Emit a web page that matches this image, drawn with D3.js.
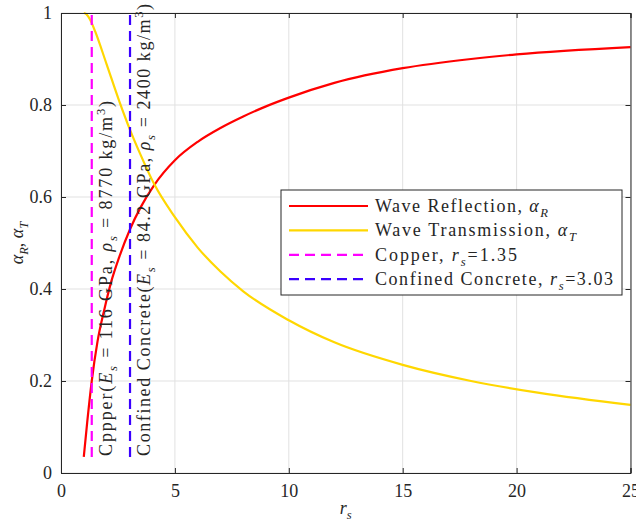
<!DOCTYPE html>
<html>
<head>
<meta charset="utf-8">
<script src="https://cdn.jsdelivr.net/npm/d3@7"></script>
<style>
  body { margin: 0; background: #fff; }
  text { font-family: "Liberation Serif", "Times New Roman", serif; fill: #262626; }
</style>
</head>
<body>
<div id="chart"></div>
<script>
// values
var rsR    = [1.0, 1.15, 1.35, 1.6, 1.9, 2.2, 2.56, 3.03, 3.5, 4.09, 5, 6, 7, 8, 9, 10, 12, 15, 18, 20, 25];
var alphaR = [0.035, 0.11, 0.2, 0.285, 0.355, 0.415, 0.47, 0.53, 0.578, 0.626, 0.68, 0.72, 0.75, 0.775, 0.797, 0.816, 0.848, 0.88, 0.9, 0.91, 0.926];
var rsT    = [1.0, 1.1, 1.2, 1.35, 1.5, 2, 2.56, 3.03, 3.5, 4.09, 5, 6, 7, 8, 10, 12, 15, 18, 21, 25];
var alphaT = [1.0, 0.998, 0.992, 0.978, 0.96, 0.889, 0.808, 0.746, 0.691, 0.628, 0.556, 0.49, 0.438, 0.395, 0.332, 0.284, 0.235, 0.2, 0.174, 0.148];
var materialR = [1.35, 3.03];
var dashSpan = [0.035, 1];
var xTicks = [0, 5, 10, 15, 20, 25];
var yTicks = [0, 0.2, 0.4, 0.6, 0.8, 1];

var w = 636, h = 527;
var margin = {left: 61, top: 13, right: 5.5, bottom: 54};
var fs = 18;

var svg = d3.select("#chart")
    .append("svg")
    .attr("width", w)
    .attr("height", h);

var xScale = d3.scaleLinear().domain([0, 25]).range([margin.left, w - margin.right]);
var yScale = d3.scaleLinear().domain([0, 1]).range([h - margin.bottom, margin.top]);

// writes text made of plain / italic / sub / sup pieces into a text element
function rich(sel, parts, size) {
    var off = 0;
    parts.forEach(function (p) {
        var t = sel.append("tspan").text(p.t);
        if (p.i) t.attr("font-style", "italic");
        var target = 0;
        if (p.sub) target = size * 0.28;
        if (p.sup) target = -size * 0.38;
        if (p.sub || p.sup) t.attr("font-size", size * 0.7);
        if (target != off) { t.attr("dy", target - off); off = target; }
    });
}

// grid
svg.append("g").selectAll("line")
    .data(xTicks)
    .enter()
    .append("line")
    .attr("x1", function (d) { return xScale(d); })
    .attr("x2", function (d) { return xScale(d); })
    .attr("y1", yScale(0))
    .attr("y2", yScale(1))
    .attr("stroke", "#e1e1e1")
    .attr("stroke-width", 1);
svg.append("g").selectAll("line")
    .data(yTicks)
    .enter()
    .append("line")
    .attr("y1", function (d) { return yScale(d); })
    .attr("y2", function (d) { return yScale(d); })
    .attr("x1", xScale(0))
    .attr("x2", xScale(25))
    .attr("stroke", "#e1e1e1")
    .attr("stroke-width", 1);

var line = d3.line()
    .curve(d3.curveMonotoneX)
    .x(function (d) { return xScale(d[0]); })
    .y(function (d) { return yScale(d[1]); });

var colors = ["#ff0000", "#ffd700", "#ff00ff", "#3a00ff"];

svg.append("path")
    .datum(d3.zip(rsR, alphaR))
    .attr("d", line)
    .attr("fill", "none")
    .attr("stroke", colors[0])
    .attr("stroke-width", 2.2);

svg.append("path")
    .datum(d3.zip(rsT, alphaT))
    .attr("d", line)
    .attr("fill", "none")
    .attr("stroke", colors[1])
    .attr("stroke-width", 2.2);

// material markers
svg.selectAll("line.mat")
    .data(materialR)
    .enter()
    .append("line")
    .attr("x1", function (d) { return xScale(d); })
    .attr("x2", function (d) { return xScale(d); })
    .attr("y1", yScale(dashSpan[0]))
    .attr("y2", yScale(dashSpan[1]))
    .attr("stroke", function (d, i) { return colors[i + 2]; })
    .attr("stroke-width", 2.2)
    .attr("stroke-dasharray", "10,6");

var matLabels = [
    [{t: "Cppper("}, {t: "E", i: 1}, {t: "s", i: 1, sub: 1}, {t: " = 116 GPa, "}, {t: "ρ", i: 1}, {t: "s", i: 1, sub: 1},
     {t: " = 8770 kg/m"}, {t: "3", sup: 1}, {t: ")"}],
    [{t: "Confined Concrete("}, {t: "E", i: 1}, {t: "s", i: 1, sub: 1}, {t: " = 84.2 GPa, "}, {t: "ρ", i: 1}, {t: "s", i: 1, sub: 1},
     {t: " = 2400 kg/m"}, {t: "3", sup: 1}, {t: ")"}]
];
var matLen = [355, 452];

matLabels.forEach(function (parts, i) {
    var t = svg.append("text")
        .attr("transform", "translate(" + (xScale(materialR[i]) + 20) + "," + (yScale(dashSpan[0]) - 1) + ") rotate(-90)")
        .attr("font-size", fs)
        .attr("textLength", matLen[i])
        .attr("lengthAdjust", "spacing");
    rich(t, parts, fs);
});

// axes
var xAxis = d3.axisBottom(xScale).tickValues(xTicks).tickSize(-5).tickPadding(11).tickFormat(d3.format("d"));
var yAxis = d3.axisLeft(yScale).tickValues(yTicks).tickSize(-5).tickPadding(9).tickFormat(function (d) { return d == 0 || d == 1 ? d : d3.format(".1f")(d); });

svg.append("g")
    .attr("transform", "translate(0," + yScale(0) + ")")
    .call(xAxis);
svg.append("g")
    .attr("transform", "translate(" + xScale(0) + ",0)")
    .call(yAxis);
svg.append("g")
    .attr("transform", "translate(0," + yScale(1) + ")")
    .call(d3.axisTop(xScale).tickValues(xTicks).tickSize(-5).tickFormat(""));
svg.append("g")
    .attr("transform", "translate(" + xScale(25) + ",0)")
    .call(d3.axisRight(yScale).tickValues(yTicks).tickSize(-5).tickFormat(""));

svg.selectAll(".domain").attr("stroke", "#262626").attr("stroke-width", 1);
svg.selectAll(".tick line").attr("stroke", "#262626");
svg.selectAll(".tick text")
    .attr("font-size", fs)
    .attr("fill", "#262626");

// axis titles
var xt = svg.append("text")
    .attr("x", xScale(12.5))
    .attr("y", h - 13)
    .attr("text-anchor", "middle")
    .attr("font-size", fs);
rich(xt, [{t: "r", i: 1}, {t: "s", i: 1, sub: 1}], fs);

var yt = svg.append("text")
    .attr("transform", "translate(23," + yScale(0.5) + ") rotate(-90)")
    .attr("text-anchor", "middle")
    .attr("font-size", fs);
rich(yt, [{t: "α", i: 1}, {t: "R", i: 1, sub: 1}, {t: ", "}, {t: "α", i: 1}, {t: "T", i: 1, sub: 1}], fs);

// legend
var legendNames = [
    [{t: "Wave Reflection, "}, {t: "α", i: 1}, {t: "R", i: 1, sub: 1}],
    [{t: "Wave Transmission, "}, {t: "α", i: 1}, {t: "T", i: 1, sub: 1}],
    [{t: "Copper, "}, {t: "r", i: 1}, {t: "s", i: 1, sub: 1}, {t: "=1.35"}],
    [{t: "Confined Concrete, "}, {t: "r", i: 1}, {t: "s", i: 1, sub: 1}, {t: "=3.03"}]
];
var legendLen = [173, 201, 142, 238];
var lg = svg.append("g");
lg.append("rect")
    .attr("x", 281)
    .attr("y", 190)
    .attr("width", 341)
    .attr("height", 105)
    .attr("fill", "#fff")
    .attr("stroke", "#262626")
    .attr("stroke-width", 1);

lg.selectAll("line")
    .data(legendNames)
    .enter()
    .append("line")
    .attr("x1", 289)
    .attr("x2", 368)
    .attr("y1", function (d, i) { return 206 + i * 24.4; })
    .attr("y2", function (d, i) { return 206 + i * 24.4; })
    .attr("stroke", function (d, i) { return colors[i]; })
    .attr("stroke-width", 2.2)
    .attr("stroke-dasharray", function (d, i) { return i > 1 ? "10,6" : null; });

legendNames.forEach(function (parts, i) {
    var t = lg.append("text")
        .attr("x", 375)
        .attr("y", 212 + i * 24.4)
        .attr("font-size", fs)
        .attr("textLength", legendLen[i])
        .attr("lengthAdjust", "spacing");
    rich(t, parts, fs);
});
</script>
</body>
</html>
